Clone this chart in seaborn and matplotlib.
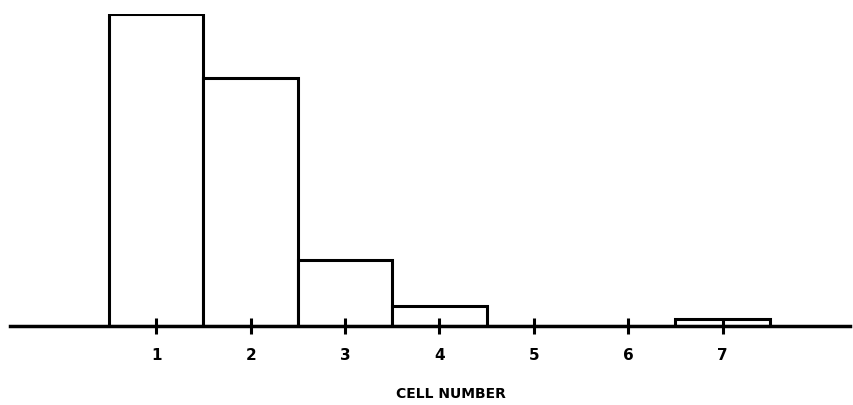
import matplotlib
matplotlib.use("Agg")
import matplotlib.pyplot as plt
import seaborn as sns
import pandas as pd

# cell number vs relative count
cells = [1, 2, 3, 4, 5, 6, 7]
counts = [100, 79.5, 21, 6.5, 0, 0, 2.2]
tick_labels = ["1", "2", "3", "4", "5", "6", "7"]

def make_plot():
    sns.set_theme(style="white")
    plt.rcParams['font.family'] = ['DejaVu Sans']
    fig = plt.figure(figsize=(8.54, 4.05), dpi=100)
    ax = fig.add_axes([10 / 854, 79 / 405, 840 / 854, 312 / 405])

    df = pd.DataFrame({"cell": cells, "count": counts})
    sns.barplot(data=df, x="cell", y="count", native_scale=True, width=1.0,
                color="white", edgecolor="black", linewidth=2.2, ax=ax,
                saturation=1)

    ax.set_xlim(-0.55, 8.35)
    ax.set_ylim(0, max(counts))
    ax.set_xticks(cells)
    ax.set_xticklabels(tick_labels, fontweight="bold", fontsize=11, color="black")
    ax.set_yticks([])
    ax.set_ylabel("")
    ax.set_axisbelow(False)
    ax.tick_params(axis="x", direction="inout", length=12, width=2.2,
                   color="black", pad=10, bottom=True)
    ax.set_xlabel("CELL NUMBER", fontweight="bold", fontsize=10, color="black")
    ax.xaxis.set_label_coords(0.525, -0.195)

    for s in ["top", "right", "left"]:
        ax.spines[s].set_visible(False)
    ax.spines["bottom"].set_linewidth(2.5)
    ax.spines["bottom"].set_color("black")
    ax.patch.set_alpha(0)

    fig.savefig("out.png", dpi=100)
    plt.close(fig)

if __name__ == "__main__":
    make_plot()
